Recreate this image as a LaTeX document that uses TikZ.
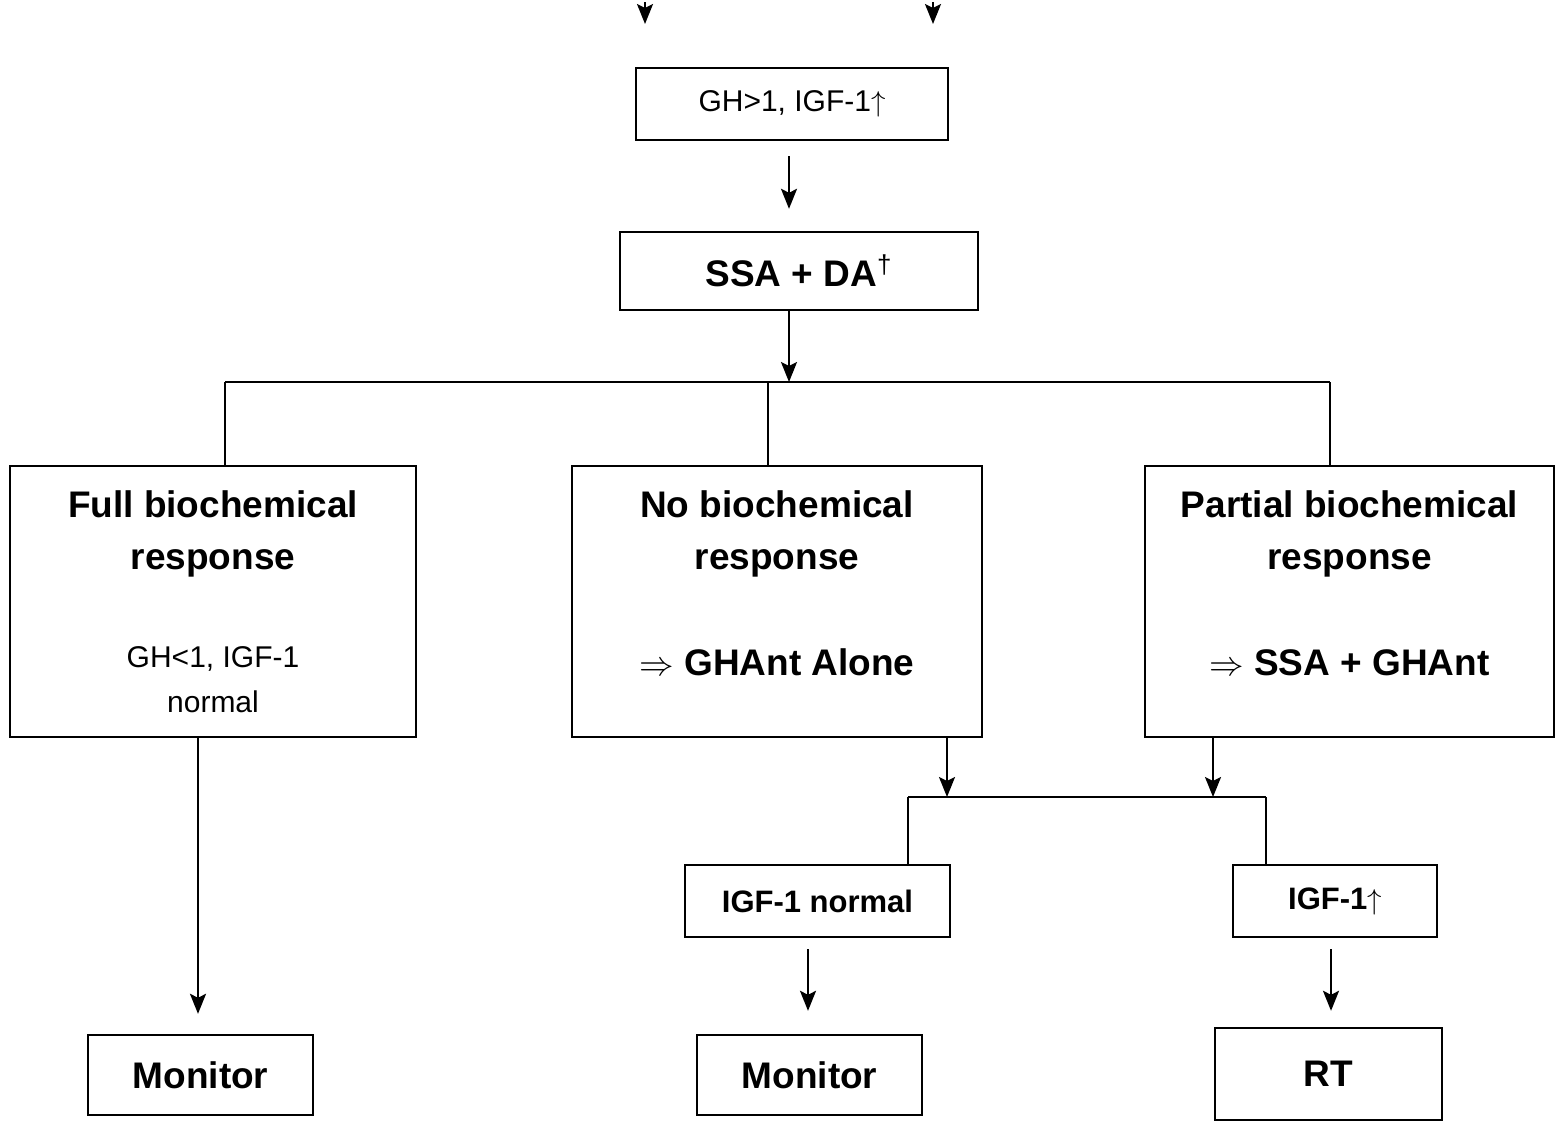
\documentclass[tikz,border=0pt]{standalone}
\usepackage{fontspec}
\setmainfont{Liberation Sans}
\usetikzlibrary{arrows.meta}
\begin{document}
\begin{tikzpicture}[x=0.5pt,y=-0.5pt,
  box/.style={draw, line width=1.2pt, rectangle, inner sep=0pt, align=center},
  bigtxt/.style={font=\bfseries\fontsize{18.5}{26}\selectfont},
  smalltxt/.style={font=\fontsize{15}{20}\selectfont},
  arr/.style={-{Stealth[length=10pt,width=8pt,inset=2pt]}, line width=1.1pt},
  ln/.style={line width=1.1pt}]
\useasboundingbox[fill=white] (0,0) rectangle (1556,1124);

% top partial arrows
\coordinate (t1s) at (645,2);
\coordinate (t1e) at (645,24);
\coordinate (t2s) at (933,2);
\coordinate (t2e) at (933,24);
\draw[arr] (t1s) -- (t1e);
\draw[arr] (t2s) -- (t2e);

% nodes
\node[box, smalltxt, minimum width=156pt, minimum height=36pt] (gh) at (792,104) {GH>1, IGF-1$\uparrow$};
\node[box, bigtxt, minimum width=179pt, minimum height=39pt] (ssa) at (799,271) {SSA + DA\textsuperscript{\mdseries †}};

\node[box, bigtxt, minimum width=203pt, minimum height=135.5pt, text depth=-4pt] (full) at (213,601.5)
  {Full biochemical\\response\\[23pt]{\mdseries\fontsize{15}{26}\selectfont GH<1, IGF-1}\\[-3.5pt]{\mdseries\fontsize{15}{26}\selectfont normal}};
\node[box, bigtxt, minimum width=205pt, minimum height=135.5pt, text depth=18pt] (nob) at (777,601.5)
  {No biochemical\\response\\[27pt]$\Rightarrow$ GHAnt Alone};
\node[box, bigtxt, minimum width=204.5pt, minimum height=135.5pt, text depth=18pt] (part) at (1349.5,601.5)
  {Partial biochemical\\response\\[27pt]$\Rightarrow$ SSA + GHAnt};

\node[box, bigtxt, minimum width=112.5pt, minimum height=40pt] (mon1) at (200.5,1075) {Monitor};
\node[box, font=\bfseries\fontsize{15.5}{20}\selectfont, minimum width=132.5pt, minimum height=36pt] (igfn) at (817.5,901) {IGF-1 normal};
\node[box, font=\bfseries\fontsize{15.5}{20}\selectfont, minimum width=102pt, minimum height=36pt] (igfu) at (1335,901) {IGF-1$\uparrow$};
\node[box, bigtxt, minimum width=112.5pt, minimum height=40pt] (mon2) at (809.5,1075) {Monitor};
\node[box, bigtxt, minimum width=113.5pt, minimum height=46pt] (rt) at (1328.5,1074) {RT};

% first connectors
\draw[arr, shorten <=7.5pt, shorten >=11pt] (gh.south -| 789,0) -- (ssa.north -| 789,0);

% branch
\coordinate (br) at (789,382);
\coordinate (bl) at (225,382);
\coordinate (bm) at (768,382);
\coordinate (brr) at (1330,382);
\draw[arr] (ssa.south -| br) -- (br);
\draw[ln] (bl) -- (brr);
\draw[ln] (bl) -- (bl |- full.north);
\draw[ln] (bm) -- (bm |- nob.north);
\draw[ln] (brr) -- (brr |- part.north);

% full -> monitor
\coordinate (fm) at (198,0);
\draw[arr, shorten >=10pt] (full.south -| fm) -- (mon1.north -| fm);

% second branch
\coordinate (j1) at (947,797);
\coordinate (j2) at (1213,797);
\coordinate (jl) at (908,797);
\coordinate (jr) at (1266,797);
\draw[arr] (nob.south -| j1) -- (j1);
\draw[arr] (part.south -| j2) -- (j2);
\draw[ln] (jl) -- (jr);
\draw[ln] (jl) -- (jl |- igfn.north);
\draw[ln] (jr) -- (jr |- igfu.north);

% bottom arrows
\coordinate (m2) at (808,0);
\coordinate (r2) at (1331,0);
\draw[arr, shorten <=5.5pt, shorten >=11.5pt] (igfn.south -| m2) -- (mon2.north -| m2);
\draw[arr, shorten <=5.5pt, shorten >=8pt] (igfu.south -| r2) -- (rt.north -| r2);
\end{tikzpicture}
\end{document}
